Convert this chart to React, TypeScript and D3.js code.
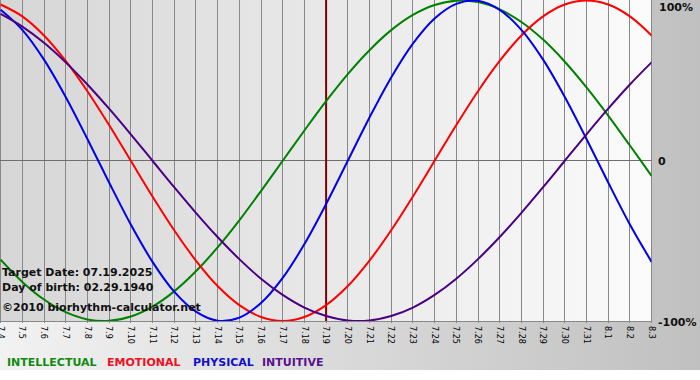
import React from "react";
import * as d3 from "d3";

const dates = ["7.4","7.5","7.6","7.7","7.8","7.9","7.10","7.11","7.12","7.13","7.14","7.15","7.16","7.17","7.18","7.19","7.20","7.21","7.22","7.23","7.24","7.25","7.26","7.27","7.28","7.29","7.30","7.31","8.1","8.2","8.3"];

const intellectual = [-0.618,-0.756,-0.866,-0.945,-0.99,-0.999,-0.972,-0.91,-0.815,-0.69,-0.541,-0.372,-0.189,0,0.189,0.372,0.541,0.69,0.815,0.91,0.972,0.999,0.99,0.945,0.866,0.756,0.618,0.458,0.282,0.095,-0.095];
const emotional = [0.975,0.901,0.782,0.623,0.434,0.223,0,-0.223,-0.434,-0.623,-0.782,-0.901,-0.975,-1,-0.975,-0.901,-0.782,-0.623,-0.434,-0.223,0,0.223,0.434,0.623,0.782,0.901,0.975,1,0.975,0.901,0.782];
const physical = [0.942,0.817,0.631,0.398,0.136,-0.136,-0.398,-0.631,-0.817,-0.942,-0.998,-0.979,-0.888,-0.731,-0.52,-0.27,0,0.27,0.52,0.731,0.888,0.979,0.998,0.942,0.817,0.631,0.398,0.136,-0.136,-0.398,-0.631];
const intuitive = [0.916,0.837,0.736,0.614,0.476,0.325,0.165,0,-0.165,-0.325,-0.476,-0.614,-0.736,-0.837,-0.916,-0.969,-0.997,-0.997,-0.969,-0.916,-0.837,-0.736,-0.614,-0.476,-0.325,-0.165,0,0.165,0.325,0.476,0.614];

const seriesNames = ["INTELLECTUAL", "EMOTIONAL", "PHYSICAL", "INTUITIVE"];
const targetDate = "7.19";
const yTicks = [
  { v: 1, label: "100%" },
  { v: 0, label: "0" },
  { v: -1, label: "-100%" },
];
const infoLines = ["Target Date: 07.19.2025", "Day of birth: 02.29.1940", "©2010 biorhythm-calculator.net"];

const W = 700;
const H = 380;
const plotL = 0;
const plotR = 651.5;
const plotT = 0;
const plotB = 321;

export default function App() {
  const x = d3.scalePoint<string>().domain(dates).range([0.6, 651.6]);
  const y = d3.scaleLinear().domain([-1, 1]).range([plotB, plotT + 0.5]);

  const series = [
    { name: seriesNames[0], values: intellectual, color: "#008000", legend: "#108a10" },
    { name: seriesNames[1], values: emotional, color: "#ff0000", legend: "#ee1020" },
    { name: seriesNames[2], values: physical, color: "#0000ee", legend: "#1010cc" },
    { name: seriesNames[3], values: intuitive, color: "#4b0082", legend: "#5a1090" },
  ];

  const line = d3
    .line<number>()
    .x((_, i) => x(dates[i]) as number)
    .y((d) => y(d))
    .curve(d3.curveCatmullRom.alpha(0.5));

  const crisp = (v: number) => Math.floor(v) + 0.5;
  const legendX = [7, 107, 193, 262];
  const font = "'DejaVu Sans', Verdana, sans-serif";

  return (
    <svg
      width={W}
      height={H}
      style={{ position: "absolute", left: 0, top: 0, display: "block" }}
      fontFamily={font}
    >
      <defs>
        <linearGradient id="bgGrad" x1="0" x2="1" y1="0" y2="0">
          <stop offset="0" stopColor="#f2f2f2" />
          <stop offset="1" stopColor="#c0c0c0" />
        </linearGradient>
        <linearGradient id="plotGrad" x1="0" x2="1" y1="0" y2="0">
          <stop offset="0" stopColor="#d6d6d6" />
          <stop offset="1" stopColor="#fbfbfb" />
        </linearGradient>
        <clipPath id="plotClip">
          <rect x={plotL} y={plotT} width={plotR - plotL} height={plotB - plotT} />
        </clipPath>
      </defs>
      <rect x={0} y={0} width={W} height={H} fill="#ffffff" />
      <rect x={0} y={0} width={W} height={370} fill="url(#bgGrad)" />
      <rect x={plotL} y={plotT} width={plotR - plotL} height={plotB - plotT} fill="url(#plotGrad)" />

      {dates.map((d) => {
        const xv = crisp(x(d) as number);
        return (
          <line key={"g" + d} x1={xv} x2={xv} y1={plotT} y2={plotB + 2} stroke="#888888" strokeWidth={1} />
        );
      })}
      <line x1={plotL} x2={plotR} y1={crisp(y(0))} y2={crisp(y(0))} stroke="#6e6e6e" strokeWidth={1} />
      <line x1={plotL} x2={plotR} y1={plotB + 0.5} y2={plotB + 0.5} stroke="#888888" strokeWidth={1} />

      <line
        x1={(x(targetDate) as number)}
        x2={(x(targetDate) as number)}
        y1={plotT}
        y2={plotB}
        stroke="#800000"
        strokeWidth={2}
      />

      <g clipPath="url(#plotClip)">
        {series.map((s) => (
          <path key={s.name} d={line(s.values) || ""} fill="none" stroke={s.color} strokeWidth={2} />
        ))}
      </g>

      {dates.map((d) => {
        const xv = x(d) as number;
        return (
          <text
            key={"t" + d}
            transform={`translate(${xv},${plotB + 5}) rotate(90)`}
            dy="0.35em"
            fontSize={8}
            fill="#000"
          >
            {d}
          </text>
        );
      })}

      {yTicks.map((t, i) => (
        <text
          key={"y" + i}
          x={t.label === "100%" ? 659 : 658}
          y={i === 0 ? 11 : i === 1 ? 165 : 326}
          fontSize={11}
          fontWeight="bold"
          fill="#111"
        >
          {t.label}
        </text>
      ))}

      {infoLines.map((t, i) => (
        <text key={"i" + i} x={2} y={[276, 291, 311][i]} fontSize={11} fontWeight="bold" fill="#111">
          {t}
        </text>
      ))}

      {series.map((s, i) => (
        <text key={"l" + s.name} x={legendX[i]} y={366} fontSize={11} fontWeight="bold" fill={s.legend}>
          {s.name}
        </text>
      ))}
    </svg>
  );
}
